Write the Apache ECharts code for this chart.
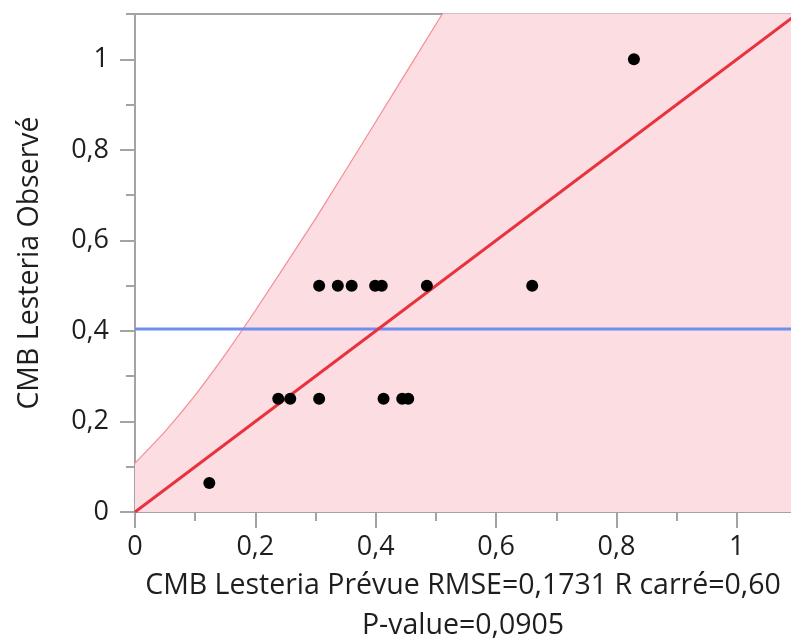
<!DOCTYPE html>
<html>
<head>
<meta charset="utf-8">
<script src="https://cdn.jsdelivr.net/npm/echarts@6/dist/echarts.min.js"></script>
<style>
html,body{margin:0;padding:0;background:#fff;}
#chart{width:791px;height:638px;}
</style>
</head>
<body>
<div id="chart"></div>
<script>
// ---- data ----
const predicted = [0.1235, 0.238, 0.258, 0.306, 0.413, 0.444, 0.454,
                   0.306, 0.337, 0.360, 0.399, 0.410, 0.485, 0.660, 0.829];
const observed  = [0.064, 0.25, 0.25, 0.25, 0.25, 0.25, 0.25,
                   0.5, 0.5, 0.5, 0.5, 0.5, 0.5, 0.5, 1.0];
const meanObserved = 0.404;
const fitX = [0, 1.1];
const fitY = [0, 1.1];
const bandX     = [0, 0.05, 0.1, 0.15, 0.2, 0.3, 0.4, 0.51, 0.6, 1.1];
const bandUpper = [0.108, 0.178, 0.258, 0.348, 0.445, 0.648, 0.862, 1.099, 1.29, 2.35];
const xTickValues = [0, 0.2, 0.4, 0.6, 0.8, 1];
const xTickLabels = ['0', '0,2', '0,4', '0,6', '0,8', '1'];
const xMinorTickValues = [0.1, 0.3, 0.5, 0.7, 0.9];
const yTickValues = [0, 0.2, 0.4, 0.6, 0.8, 1];
const yTickLabels = ['0', '0,2', '0,4', '0,6', '0,8', '1'];
const yMinorTickValues = [0.1, 0.3, 0.5, 0.7, 0.9, 1.1];
const xTitle = 'CMB Lesteria Prévue RMSE=0,1731 R carré=0,60\nP-value=0,0905';
const yTitle = 'CMB Lesteria Observé';

// ---- chart ----
const FONT = '"Open Sans", "Noto Sans", sans-serif';
const TXT = '#1e1e1e';
const AXIS = '#a3a3a3';
function lab(values, labels) {
  return v => {
    for (let i = 0; i < values.length; i++) if (Math.abs(values[i] - v) < 1e-9) return labels[i];
    return '';
  };
}
const X_MAX = 1.09, Y_MAX = 1.1;
const chart = echarts.init(document.getElementById('chart'), null, {renderer: 'canvas'});
chart.setOption({
  animation: false,
  backgroundColor: '#ffffff',
  grid: {left: 135, right: 0, top: 14, bottom: 126, containLabel: false, outerBoundsMode: 'none'},
  xAxis: [
    {
      type: 'value', position: 'bottom', min: 0, max: X_MAX,
      axisLine: {show: true, onZero: false, lineStyle: {color: AXIS, width: 2}},
      axisTick: {show: true, length: 16, customValues: xTickValues, lineStyle: {color: AXIS, width: 2}},
      axisLabel: {show: true, customValues: xTickValues, formatter: lab(xTickValues, xTickLabels),
                  margin: 22, fontSize: 27, color: TXT, fontFamily: FONT},
      splitLine: {show: false},
      name: xTitle, nameLocation: 'middle', nameGap: 51,
      nameTextStyle: {fontSize: 28.5, lineHeight: 40, color: TXT, fontFamily: FONT, align: 'center'}
    },
    {
      type: 'value', position: 'bottom', min: 0, max: X_MAX,
      axisLine: {show: false, onZero: false},
      axisTick: {show: true, length: 9, customValues: xMinorTickValues, lineStyle: {color: AXIS, width: 2}},
      axisLabel: {show: false}, splitLine: {show: false}
    },
    {
      type: 'value', position: 'top', min: 0, max: X_MAX,
      axisLine: {show: true, onZero: false, lineStyle: {color: AXIS, width: 2}},
      axisTick: {show: false}, axisLabel: {show: false}, splitLine: {show: false}
    }
  ],
  yAxis: [
    {
      type: 'value', position: 'left', min: 0, max: Y_MAX,
      axisLine: {show: true, onZero: false, lineStyle: {color: AXIS, width: 2}},
      axisTick: {show: true, length: 15, customValues: yTickValues, lineStyle: {color: AXIS, width: 2}},
      axisLabel: {show: true, customValues: yTickValues, formatter: lab(yTickValues, yTickLabels),
                  margin: 26, fontSize: 27, color: TXT, fontFamily: FONT},
      splitLine: {show: false},
      name: yTitle, nameLocation: 'middle', nameGap: 91, nameRotate: 90,
      nameTextStyle: {fontSize: 28.5, color: TXT, fontFamily: FONT}
    },
    {
      type: 'value', position: 'left', min: 0, max: Y_MAX,
      axisLine: {show: false, onZero: false},
      axisTick: {show: true, length: 9, customValues: yMinorTickValues, lineStyle: {color: AXIS, width: 2}},
      axisLabel: {show: false}, splitLine: {show: false}
    }
  ],
  series: [
    {
      name: 'band', type: 'line', xAxisIndex: 0, yAxisIndex: 0,
      data: bandX.map((x, i) => [x, bandUpper[i]]),
      smooth: 0.2, symbol: 'none', clip: true, silent: true,
      lineStyle: {color: 'rgba(240,110,120,0.75)', width: 1.2},
      areaStyle: {color: 'rgb(252,221,225)', opacity: 1, origin: 'start'},
      z: 1
    },
    {
      name: 'mean', type: 'line', xAxisIndex: 0, yAxisIndex: 0,
      data: [[0, meanObserved], [X_MAX, meanObserved]],
      symbol: 'none', lineStyle: {color: '#6e8ef0', width: 3}, z: 2
    },
    {
      name: 'fit', type: 'line', xAxisIndex: 0, yAxisIndex: 0,
      data: fitX.map((x, i) => [x, fitY[i]]),
      symbol: 'none', clip: true, lineStyle: {color: '#e8323f', width: 3}, z: 3
    },
    {
      name: 'points', type: 'scatter', xAxisIndex: 0, yAxisIndex: 0,
      data: predicted.map((x, i) => [x, observed[i]]),
      symbolSize: 12, itemStyle: {color: '#000000', opacity: 1}, z: 4
    }
  ]
});
</script>
</body>
</html>
